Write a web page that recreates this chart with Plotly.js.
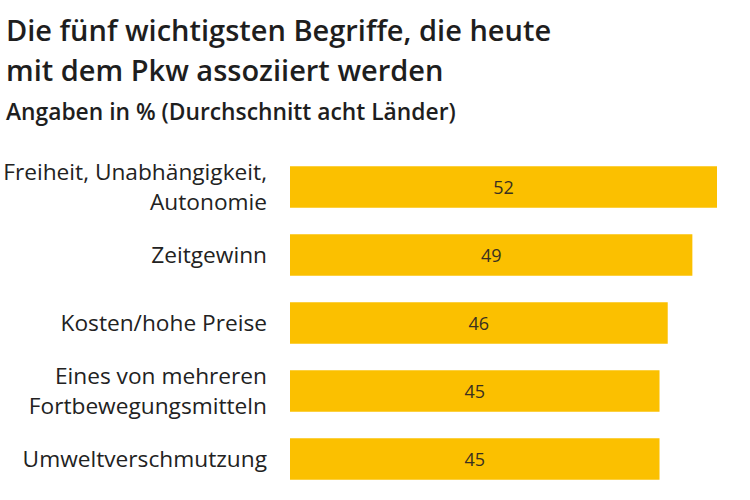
<!DOCTYPE html>
<html>
<head>
<meta charset="utf-8">
<script src="https://cdn.plot.ly/plotly-3.0.1.min.js"></script>
<style>html,body{margin:0;padding:0;background:#fff;}#chart{width:750px;height:500px;}</style>
</head>
<body>
<div id="chart"></div>
<script>
const categories = [
  "Freiheit, Unabhängigkeit,<br>Autonomie",
  "Zeitgewinn",
  "Kosten/hohe Preise",
  "Eines von mehreren<br>Fortbewegungsmitteln",
  "Umweltverschmutzung"
];
const values = [52, 49, 46, 45, 45];
const titleLines = ["Die fünf wichtigsten Begriffe, die heute", "mit dem Pkw assoziiert werden"];
const subtitleText = "Angaben in % (Durchschnitt acht Länder)";

const FONT = "Open Sans, Noto Sans, sans-serif";
const barColor = "#FBC000";
const textColor = "#1e1e1e";

const trace = {
  type: "bar",
  orientation: "h",
  x: values,
  y: categories,
  text: values.map(String),
  textposition: "inside",
  insidetextanchor: "middle",
  textfont: {family: FONT, size: 18, color: "#3a3020"},
  marker: {color: barColor},
  hoverinfo: "none",
  cliponaxis: false
};

const L = 290, PW = 427, T = 153, PH = 340;
const px = x => (x - L) / PW;
const py = y => 1 + (T - y) / PH;

const layout = {
  width: 750,
  height: 500,
  margin: {l: L, r: 750 - L - PW, t: T, b: 500 - T - PH, pad: 0},
  paper_bgcolor: "#fff",
  plot_bgcolor: "#fff",
  showlegend: false,
  bargap: 0.39,
  xaxis: {
    range: [0, Math.max(...values)],
    visible: false,
    fixedrange: true
  },
  yaxis: {
    autorange: "reversed",
    showgrid: false,
    zeroline: false,
    showline: false,
    ticks: "",
    ticklabelstandoff: 22,
    tickfont: {family: FONT, size: 22.7, color: "#222"},
    fixedrange: true
  },
  annotations: [
    {text: titleLines[0], x: px(4), y: py(30), font: {family: FONT, size: 29, color: textColor, weight: 600}},
    {text: titleLines[1], x: px(4), y: py(69), font: {family: FONT, size: 29, color: textColor, weight: 600}},
    {text: subtitleText, x: px(4), y: py(111), font: {family: FONT, size: 22.8, color: textColor, weight: 600}}
  ].map(a => Object.assign({xref: "paper", yref: "paper", xanchor: "left", yanchor: "middle", showarrow: false}, a))
};

Plotly.newPlot("chart", [trace], layout, {displayModeBar: false, staticPlot: true});
</script>
</body>
</html>
